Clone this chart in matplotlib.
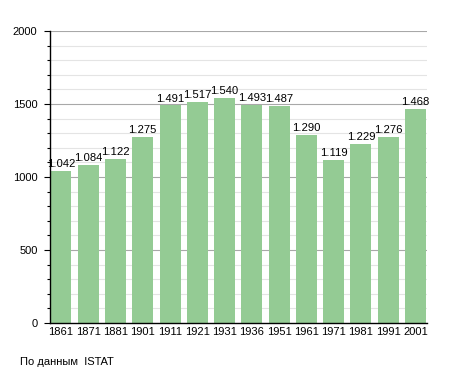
import matplotlib
matplotlib.use("Agg")
import matplotlib.pyplot as plt
import numpy as np

years = ["1861", "1871", "1881", "1901", "1911", "1921", "1931", "1936",
         "1951", "1961", "1971", "1981", "1991", "2001"]
population = [1042, 1084, 1122, 1275, 1491, 1517, 1540, 1493, 1487, 1290,
              1119, 1229, 1276, 1468]
labels = ["1.042", "1.084", "1.122", "1.275", "1.491", "1.517", "1.540",
          "1.493", "1.487", "1.290", "1.119", "1.229", "1.276", "1.468"]

plt.rcParams["font.family"] = ["Liberation Sans", "DejaVu Sans"]
fig = plt.figure(figsize=(4.55, 3.73), dpi=100)
ax = fig.add_axes([50/455, 1-323/373, 377/455, 292/373])

x = np.arange(len(years))
for y in range(100, 2000, 100):
    if y % 500:
        ax.axhline(y, color="#e4e4e4", lw=0.8, zorder=0)
for y in (500, 1000, 1500, 2000):
    ax.axhline(y, color="#a8a8a8", lw=0.8, zorder=0)

ax.bar(x, population, width=0.77, color="#94cb94", zorder=2)
for xi, v, t in zip(x, population, labels):
    ax.text(xi, v + 12, t, ha="center", va="bottom", fontsize=8.1, zorder=3)

ax.set_xlim(-0.4, 13.42)
ax.set_ylim(0, 2000)
ax.set_xticks(x)
ax.set_xticklabels(years, fontsize=8)
ax.set_yticks([0, 500, 1000, 1500, 2000])
ax.set_yticklabels(["0", "500", "1000", "1500", "2000"], fontsize=8)
ax.set_yticks(range(0, 2001, 100), minor=True)
ax.tick_params(axis="y", which="major", length=4, width=0.8, pad=5)
ax.tick_params(axis="y", which="minor", length=2, width=0.8)
ax.tick_params(axis="x", length=0, pad=3)
for s in ("top", "right"):
    ax.spines[s].set_visible(False)
ax.spines["left"].set_linewidth(1)
ax.spines["bottom"].set_linewidth(1)

fig.text(20/455, 1-362/373, "По данным  ISTAT", fontsize=8, va="center")
fig.savefig("out.png", dpi=100)
